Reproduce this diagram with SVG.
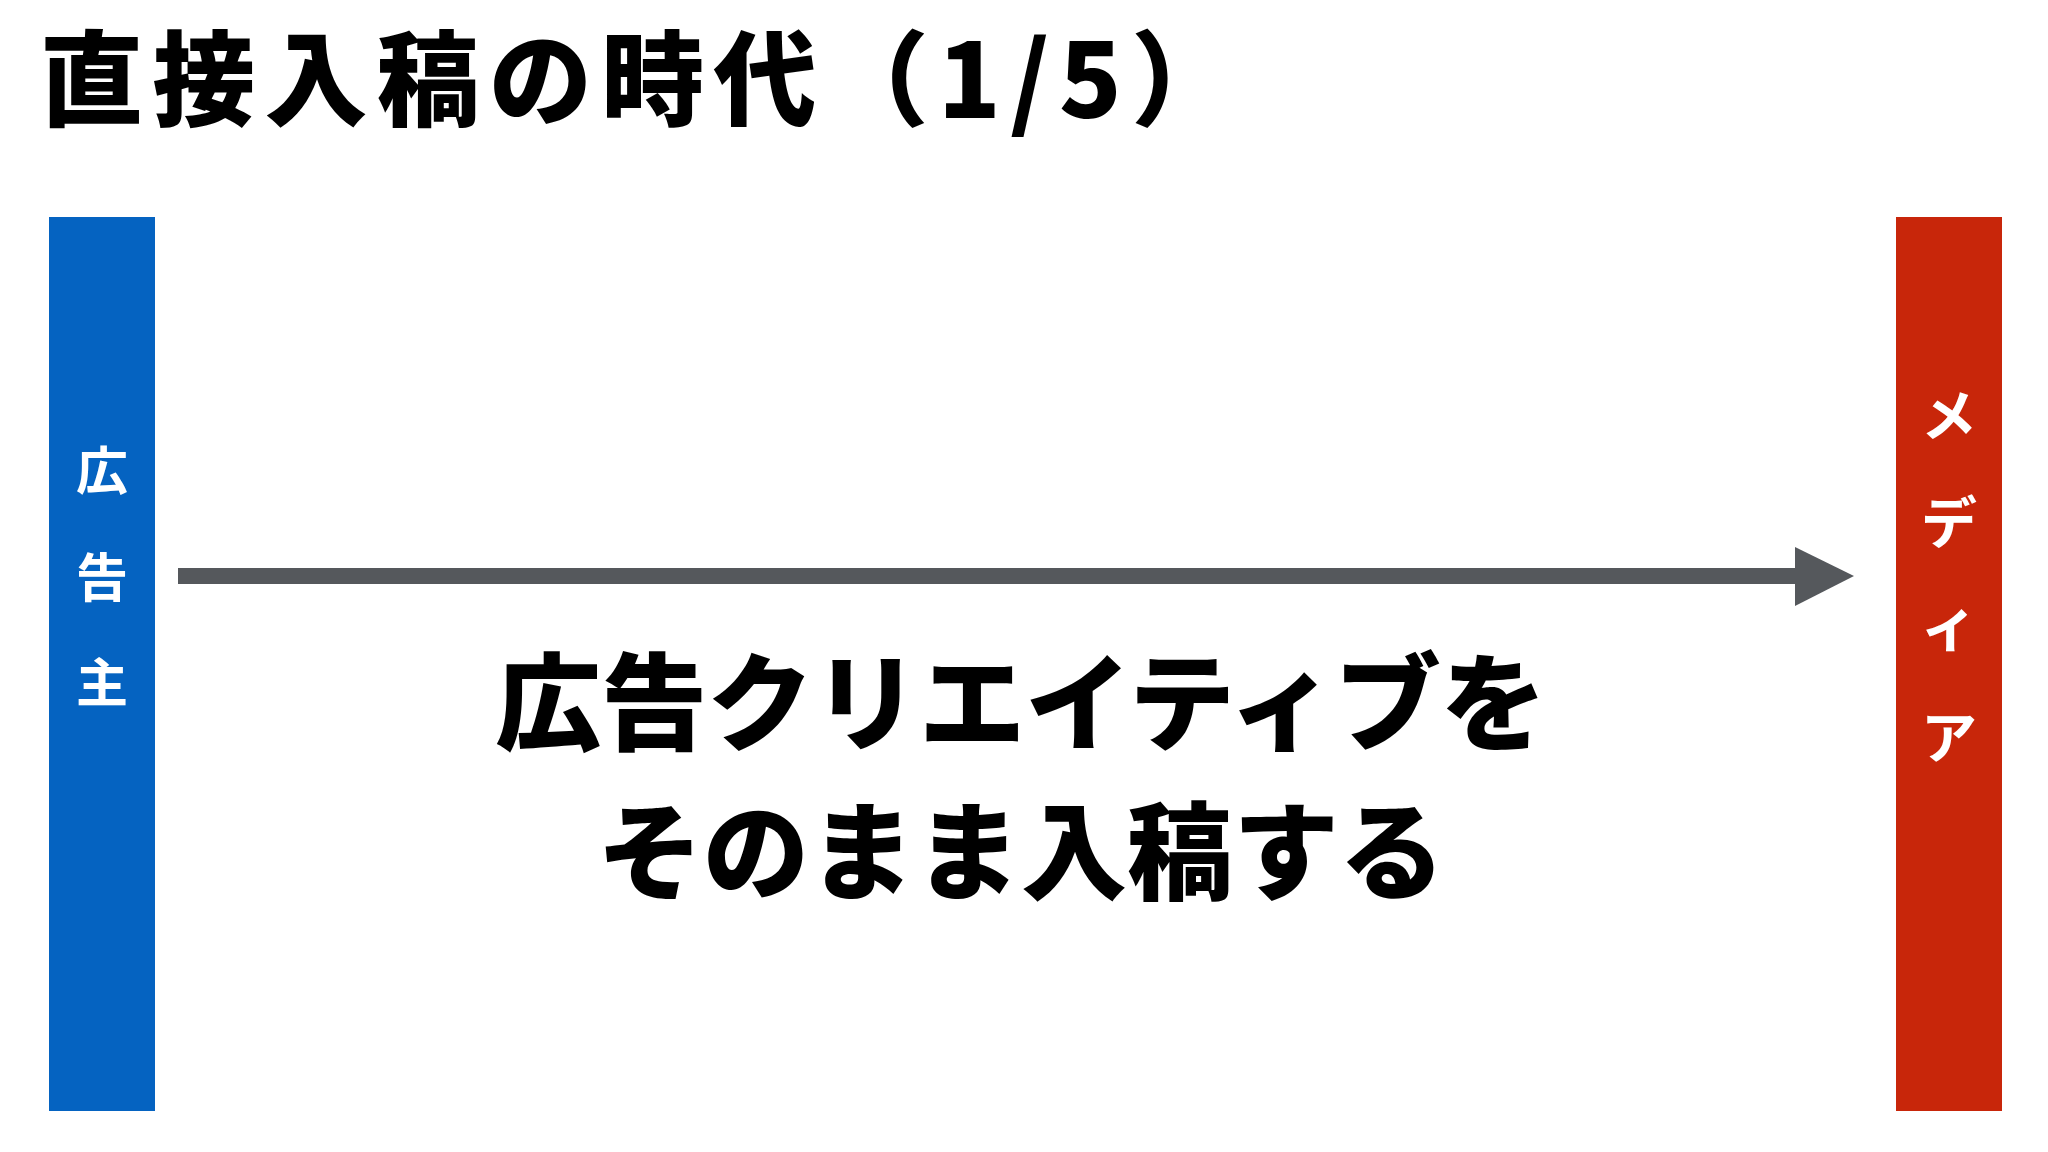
<svg xmlns="http://www.w3.org/2000/svg" width="2048" height="1152" viewBox="0 0 2048 1152">
<style>
.t{font-family:"Noto Sans CJK JP","Noto Sans",sans-serif;font-weight:900;fill:#000}
.bar{font-family:"Noto Sans CJK JP","Noto Sans",sans-serif;font-weight:700;fill:#fff;text-anchor:middle}
</style>
<rect width="2048" height="1152" fill="#fff"/>
<g id="title">
<text class="t" x="40" y="118" font-size="103" textLength="1194" lengthAdjust="spacing">直接入稿の時代（1/5）</text>
</g>
<g id="advertiser">
<rect x="49" y="217" width="106" height="894" fill="#0563C1"/>
<text class="bar" font-size="52" x="102"><tspan x="102" y="490">広</tspan><tspan x="102" y="597">告</tspan><tspan x="102" y="702">主</tspan></text>
</g>
<g id="media">
<rect x="1896" y="217" width="106" height="894" fill="#C8260A"/>
<text class="bar" font-size="56" x="1949"><tspan x="1949" y="436">メ</tspan><tspan x="1949" y="543">デ</tspan><tspan x="1949" y="646" font-size="58">ィ</tspan><tspan x="1949" y="758">ア</tspan></text>
</g>
<g id="connectors">
<line x1="178" y1="576" x2="1797" y2="576" stroke="#55585C" stroke-width="16"/>
<polygon points="1795,547 1854,576 1795,606" fill="#55585C"/>
</g>
<g id="message">
<text class="t" font-size="106" text-anchor="middle"><tspan x="1021" y="742">広告クリエイティブを</tspan><tspan x="1021" y="891">そのまま入稿する</tspan></text>
</g>
</svg>
